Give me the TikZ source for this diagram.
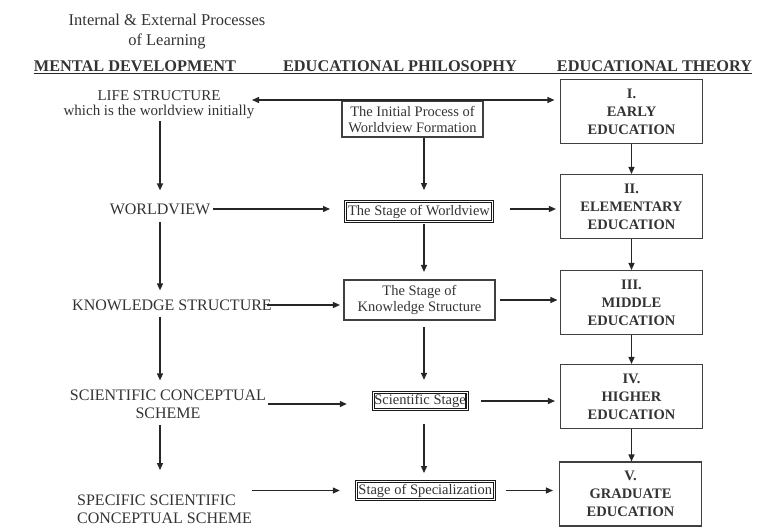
\documentclass[tikz,border=0pt]{standalone}
\usepackage{fontspec}
\setmainfont{Liberation Serif}
\usetikzlibrary{arrows.meta}

\begin{document}
\begin{tikzpicture}[x=1pt,y=-1pt,
    every node/.style={text=black!80},
    arr/.style={draw=black!85,line width=1.3pt,-{Triangle[length=7pt,width=6pt]}},
    mindtext/.style={align=center,inner sep=2pt,font=\fontsize{16}{18}\selectfont},
    headtext/.style={inner sep=0pt,anchor=base,font=\fontsize{16.3}{18}\selectfont\bfseries},
    philbox/.style={draw=black!75,line width=1.1pt,align=center,inner sep=0pt,font=\fontsize{14.5}{16}\selectfont},
    stagebox/.style={philbox,draw=black!90,line width=1.25pt,double=white,double distance=0.6pt,outer sep=1.55pt},
    theorybox/.style={draw=black!75,line width=1.1pt,align=center,inner sep=0pt,minimum width=142pt,minimum height=64pt,font=\fontsize{14.5}{18}\selectfont\bfseries}]
    \pgfmathsetmacro{\mindx}{160}
    \pgfmathsetmacro{\philx}{424}
    \pgfmathsetmacro{\theoryx}{631.5}
    \useasboundingbox (0,0) rectangle (765,528);
    % headings
    \node[mindtext,font=\fontsize{16.5}{20}\selectfont] (title) at (167,32) {Internal \& External Processes\\of Learning};
    \node[headtext] (mental) at (135,71) {MENTAL DEVELOPMENT};
    \node[headtext] (philosophy) at (400,71) {EDUCATIONAL PHILOSOPHY};
    \node[headtext] (theory) at (654.5,71) {EDUCATIONAL THEORY};
    \draw[line width=1.3pt,black!85] ([yshift=-2.5pt]mental.base west) -- ([yshift=-2.5pt]theory.base east);
    % mental development
    \node[mindtext,font=\fontsize{15}{15}\selectfont] (life) at (159,105) {LIFE STRUCTURE\\which is the worldview initially};
    \node[mindtext] (worldview) at (160,209) {WORLDVIEW};
    \node[mindtext] (knowledge) at (172,305) {KNOWLEDGE STRUCTURE};
    \node[mindtext] (scientific) at (168,404) {SCIENTIFIC CONCEPTUAL\\SCHEME};
    \node[mindtext,align=left,inner sep=0pt,anchor=north west] (specific) at (77,495) {SPECIFIC SCIENTIFIC\\CONCEPTUAL SCHEME};
    \coordinate (mindcol) at (\mindx,0);
    \coordinate (philcol) at (\philx,0);
    \coordinate (lifetip) at (252,100);
    % educational philosophy
    \node[philbox,minimum width=141pt,minimum height=36pt] (initial) at (412.5,119) {The Initial Process of\\Worldview Formation};
    \node[stagebox,minimum width=146.9pt,minimum height=19.9pt] (worldstage) at (419,211.5) {The Stage of Worldview};
    \node[philbox,minimum width=151pt,minimum height=40pt] (knowstage) at (419.5,300) {The Stage of\\Knowledge Structure};
    \node[stagebox,minimum width=93.9pt,minimum height=16.9pt] (scistage) at (420,401) {Scientific Stage};
    \node[stagebox,minimum width=137.9pt,minimum height=17.9pt] (specstage) at (425.3,490.5) {Stage of Specialization};
    % educational theory
    \node[theorybox] (early) at (\theoryx,111.5) {I.\\EARLY\\EDUCATION};
    \node[theorybox] (elementary) at (\theoryx,206.5) {II.\\ELEMENTARY\\EDUCATION};
    \node[theorybox] (middle) at (\theoryx,302.5) {III.\\MIDDLE\\EDUCATION};
    \node[theorybox] (higher) at (\theoryx,396.5) {IV.\\HIGHER\\EDUCATION};
    \node[theorybox] (graduate) at (630.5,494) {V.\\GRADUATE\\EDUCATION};
    % arrows
    \draw[arr,{Triangle[length=7pt,width=6pt]}-{Triangle[length=7pt,width=6pt]},shorten >=5.5pt] (lifetip) -- (lifetip -| early.west);
    \draw[arr,shorten >=11pt] (life.south -| mindcol) -- (worldview.north -| mindcol);
    \draw[arr,shorten <=5pt,shorten >=7pt] (worldview.south -| mindcol) -- (knowledge.north -| mindcol);
    \draw[arr,shorten <=4pt,shorten >=7pt] (knowledge.south -| mindcol) -- (scientific.north -| mindcol);
    \draw[arr,shorten <=4pt,shorten >=25pt] (scientific.south -| mindcol) -- (specific.north -| mindcol);
    \draw[arr,shorten <=1pt,shorten >=14pt] (worldview.east) -- (worldview.east -| worldstage.west);
    \draw[arr,shorten <=-7pt,shorten >=3.5pt] (knowledge.east) -- (knowledge.east -| knowstage.west);
    \draw[arr,shorten >=24.7pt] (scientific.east) -- (scientific.east -| scistage.west);
    \draw[arr,shorten >=15pt] (specific.north east |- specstage.west) -- (specstage.west);
    \draw[arr,shorten >=10pt] (initial.south -| philcol) -- (worldstage.north -| philcol);
    \draw[arr,shorten <=1pt,shorten >=7.5pt] (worldstage.south -| philcol) -- (knowstage.north -| philcol);
    \draw[arr,shorten <=6.5pt,shorten >=11.2pt] (knowstage.south -| philcol) -- (scistage.north -| philcol);
    \draw[arr,shorten <=12.5pt,shorten >=7pt] (scistage.south -| philcol) -- (specstage.north -| philcol);
    \draw[arr,shorten <=16pt,shorten >=4pt] (worldview.east -| worldstage.east) -- (worldview.east -| elementary.west);
    \draw[arr,shorten <=4.5pt,shorten >=2.5pt] (knowstage.east) -- (knowstage.east -| middle.west);
    \draw[arr,shorten <=12.7pt,shorten >=5pt] (scistage.east) -- (scistage.east -| higher.west);
    \draw[arr,shorten <=10.3pt,shorten >=6pt] (specstage.east) -- (specstage.east -| graduate.west);
    \draw[arr] (early) -- (early |- elementary.north);
    \draw[arr] (elementary) -- (elementary |- middle.north);
    \draw[arr] (middle) -- (middle |- higher.north);
    \draw[arr] (higher) -- (higher |- graduate.north);
\end{tikzpicture}
\end{document}
